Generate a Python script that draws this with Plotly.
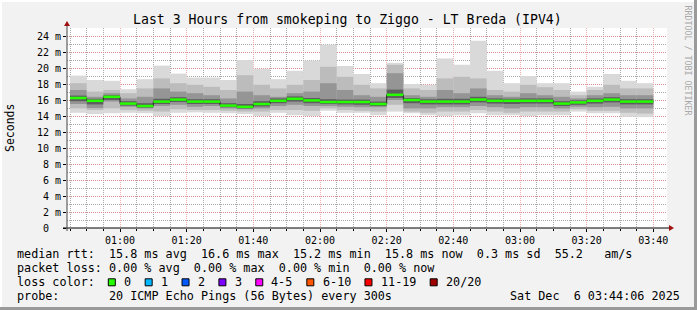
import plotly.graph_objects as go
import pandas as pd

# ---------------- data ----------------
bar_end = pd.date_range("2025-12-06 00:50", periods=35, freq="5min")

rtt_median = [16.25, 15.9, 16.4, 15.55, 15.25, 15.8, 16.05, 15.8, 15.8, 15.3,
              15.15, 15.5, 15.9, 16.15, 15.95, 15.75, 15.75, 15.75, 15.5, 16.65,
              16.0, 15.8, 15.8, 15.8, 16.05, 15.9, 15.9, 15.9, 15.9, 15.55,
              15.7, 15.9, 16.05, 15.8, 15.8]
rtt_max = [19.05, 18.5, 18.4, 17.35, 18.6, 20.3, 19.3, 18.8, 18.8, 18.5,
           21.0, 19.9, 18.6, 19.65, 20.9, 22.9, 20.25, 19.25, 18.1, 20.65,
           18.0, 17.9, 21.2, 20.4, 23.4, 19.65, 18.1, 19.0, 18.1, 18.1,
           17.05, 17.65, 19.25, 18.4, 18.1]
rtt_p90 = [18.1, 17.05, 17.25, 16.85, 17.45, 18.7, 18.1, 17.9, 17.65, 17.25,
           19.1, 17.9, 17.45, 17.9, 18.5, 20.15, 18.9, 17.9, 17.45, 20.4,
           17.45, 17.25, 18.7, 18.9, 18.7, 17.25, 17.05, 17.9, 17.6, 17.25,
           16.6, 17.25, 17.9, 17.45, 17.45]
rtt_p75 = [17.25, 16.4, 16.85, 16.2, 16.4, 17.45, 17.05, 16.85, 16.6, 16.2,
           17.05, 16.6, 16.4, 16.85, 17.05, 18.1, 17.25, 16.6, 16.4, 19.35,
           16.6, 16.4, 17.25, 16.85, 17.45, 16.6, 16.4, 16.85, 16.6, 16.4,
           16.2, 16.6, 16.85, 16.6, 16.6]
rtt_p60 = [16.55, 16.15, 16.6, 15.85, 15.6, 16.15, 16.35, 16.1, 16.1, 15.6,
           15.5, 15.85, 16.2, 16.45, 16.25, 16.1, 16.05, 16.05, 15.8, 17.3,
           16.25, 16.1, 16.15, 16.15, 16.4, 16.2, 16.15, 16.2, 16.2, 15.85,
           15.95, 16.2, 16.35, 16.1, 16.1]
rtt_p40 = [15.85, 15.45, 16.0, 15.3, 15.05, 15.5, 15.75, 15.5, 15.5, 15.1,
           14.95, 15.2, 15.6, 15.8, 15.6, 15.5, 15.45, 15.4, 15.25, 16.25,
           15.6, 15.45, 15.45, 15.45, 15.7, 15.55, 15.5, 15.55, 15.55, 15.25,
           15.4, 15.55, 15.7, 15.45, 15.45]
rtt_p25 = [15.5, 15.0, 15.8, 15.15, 14.95, 15.25, 15.4, 15.15, 15.25, 14.95,
           14.85, 14.95, 15.25, 15.4, 15.25, 15.25, 15.15, 15.1, 15.1, 16.0,
           14.95, 14.95, 15.1, 15.1, 15.25, 15.1, 14.95, 15.1, 15.1, 14.95,
           15.15, 15.1, 15.15, 14.95, 14.95]
rtt_p10 = [14.95, 14.75, 14.95, 14.75, 14.65, 14.55, 14.85, 14.75, 14.75, 14.65,
           14.55, 14.55, 14.75, 14.75, 14.65, 14.95, 14.75, 14.65, 14.55, 15.4,
           14.55, 14.4, 14.55, 14.55, 14.75, 14.55, 14.4, 14.55, 14.55, 14.55,
           14.85, 14.65, 14.65, 14.4, 14.3]
rtt_min = [14.4, 14.25, 14.35, 14.4, 14.35, 14.0, 14.4, 14.45, 14.4, 14.35,
           14.25, 14.0, 14.4, 14.1, 14.0, 14.65, 14.4, 14.4, 14.1, 14.55,
           14.35, 14.1, 14.0, 14.1, 14.35, 14.1, 14.1, 14.0, 14.1, 14.1,
           14.55, 14.35, 14.35, 13.9, 13.85]

y_ticks = list(range(0, 25, 2))
y_ticktext = ["0\u00a0\u00a0"] + [f"{v} m" for v in y_ticks[1:]]

loss_labels = ["0", "1", "2", "3", "4-5", "6-10", "11-19", "20/20"]
loss_colors = ["#26ff00", "#00b8ff", "#0059ff", "#7e00ff", "#ff00ff",
               "#ff5500", "#ff0000", "#a10000"]

title_text = "Last 3 Hours from smokeping to Ziggo - LT Breda (IPV4)"
legend_lines = [
    "median rtt:  15.8 ms avg  16.6 ms max  15.2 ms min  15.8 ms now  0.3 ms sd  55.2   am/s",
    "packet loss: 0.00 % avg  0.00 % max  0.00 % min  0.00 % now",
    "loss color:",
    "probe:       20 ICMP Echo Pings (56 Bytes) every 300s",
]
date_text = "Sat Dec  6 03:44:06 2025"

# ---------------- geometry helpers ----------------
W, H = 697, 310
L, R, T, B = 67, 30, 28, 82
PW, PH = W - L - R, H - T - B
def px(x):
    return (x - L) / PW
def py(y):
    return (H - B - y) / PH
def nb(s):
    return s.replace(" ", "\u00a0")

STEP = pd.Timedelta(minutes=5)
bar_start = bar_end - STEP
centers = bar_end - STEP / 2
WMS = 5 * 60 * 1000
MONO = "DejaVu Sans Mono"

fig = go.Figure()

bands = [
    (rtt_min, rtt_max, "#d9d9d9"),
    (rtt_p10, rtt_p90, "#bcbcbc"),
    (rtt_p25, rtt_p75, "#959595"),
    (rtt_p40, rtt_p60, "#5e5e5e"),
]
for lo, hi, col in bands:
    fig.add_trace(go.Bar(
        x=centers, y=[h - l for l, h in zip(lo, hi)], base=lo, width=WMS,
        marker=dict(color=col, line=dict(width=0)), hoverinfo="skip",
        showlegend=False))

# black step line for the median
sx = list(bar_start) + [bar_end[-1]]
sy = rtt_median + [rtt_median[-1]]
fig.add_trace(go.Scatter(x=sx, y=sy, mode="lines", line=dict(color="#202020", width=1, shape="hv"),
                         hoverinfo="skip", showlegend=False))
# green (0 loss) median segments
gx, gy = [], []
for s, e, m in zip(bar_start, bar_end, rtt_median):
    gx += [s, e, None]
    gy += [m, m, None]
fig.add_trace(go.Scatter(x=gx, y=gy, mode="lines", line=dict(color=loss_colors[0], width=2.5),
                         hoverinfo="skip", showlegend=False))

grid_major = "rgba(240,130,130,0.65)"
grid_minor = "rgba(160,160,160,0.9)"

fig.update_layout(
    width=W, height=H, margin=dict(l=L, r=R, t=T, b=B),
    paper_bgcolor="#f2f2f2", plot_bgcolor="#ffffff",
    barmode="overlay", showlegend=False,
    font=dict(family=MONO, size=10, color="#000000"),
    xaxis=dict(
        type="date",
        range=["2025-12-06 00:44:06", "2025-12-06 03:44:06"],
        tickformat="%H:%M", tick0="2025-12-06 01:00", dtick=20 * 60 * 1000,
        showgrid=True, gridcolor=grid_major, griddash="1px,1px", gridwidth=1,
        ticks="outside", ticklen=3, tickcolor="#000000",
        minor=dict(dtick=WMS, tick0="2025-12-06 00:45", showgrid=True,
                   gridcolor=grid_minor, griddash="1px,1px", gridwidth=1,
                   ticks="outside", ticklen=2, tickcolor="#000000"),
        showline=False, zeroline=False, fixedrange=True,
        tickfont=dict(family=MONO, size=10),
    ),
    yaxis=dict(
        range=[0, 25], tickmode="array", tickvals=y_ticks, ticktext=y_ticktext,
        showgrid=True, gridcolor=grid_major, griddash="1px,1px", gridwidth=1,
        ticks="outside", ticklen=3, tickcolor="#000000",
        minor=dict(dtick=1, tick0=0, showgrid=True, gridcolor=grid_minor,
                   griddash="1px,1px", gridwidth=1),
        showline=False, zeroline=False, fixedrange=True,
        tickfont=dict(family=MONO, size=10),
    ),
)

shapes = []
# frame (3D look)
shapes.append(dict(type="line", xref="paper", yref="paper", x0=px(0), x1=px(W), y0=py(1), y1=py(1),
                   line=dict(color="#ffffff", width=2)))
shapes.append(dict(type="line", xref="paper", yref="paper", x0=px(1), x1=px(1), y0=py(0), y1=py(H),
                   line=dict(color="#ffffff", width=2)))
shapes.append(dict(type="line", xref="paper", yref="paper", x0=px(0), x1=px(W), y0=py(H - 1.5), y1=py(H - 1.5),
                   line=dict(color="#9a9a9a", width=3)))
shapes.append(dict(type="line", xref="paper", yref="paper", x0=px(W - 1.5), x1=px(W - 1.5), y0=py(0), y1=py(H),
                   line=dict(color="#9a9a9a", width=3)))
# axes
shapes.append(dict(type="line", xref="paper", yref="paper", x0=px(63), x1=px(670), y0=0, y1=0,
                   line=dict(color="#000000", width=1)))
shapes.append(dict(type="line", xref="paper", yref="paper", x0=0, x1=0, y0=py(231), y1=py(24),
                   line=dict(color="#444444", width=1)))
shapes.append(dict(type="path", xref="paper", yref="paper",
                   path=f"M {px(669)} {py(225)} L {px(674)} {py(228)} L {px(669)} {py(231)} Z",
                   fillcolor="#a01010", line=dict(width=0)))
shapes.append(dict(type="path", xref="paper", yref="paper",
                   path=f"M {px(64)} {py(26)} L {px(67)} {py(21)} L {px(70)} {py(26)} Z",
                   fillcolor="#a01010", line=dict(width=0)))

annotations = []
def text(xp, yp, s, size, xanchor="left", angle=0, color="#000000"):
    annotations.append(dict(x=px(xp), y=py(yp), xref="paper", yref="paper", text=nb(s),
                            showarrow=False, xanchor=xanchor, yanchor="middle",
                            textangle=angle, borderpad=0,
                            font=dict(family=MONO, size=size, color=color)))

text(347, 19, title_text, 13.2, xanchor="center")
text(10, 128, "Seconds", 11.5, xanchor="center", angle=-90)
text(687.5, 60, "RRDTOOL / TOBI OETIKER", 8.3, xanchor="center", angle=90, color="#a8a8a8")

LEG_X = 16
leg_y = [254.3, 268.3, 282.3, 295.7]
CW = 7.09
for s, yy in zip(legend_lines, leg_y):
    text(LEG_X, yy, s, 11.75)
text(681, leg_y[3], date_text, 11.75, xanchor="right")

bx = 108.3
for lab, col in zip(loss_labels, loss_colors):
    shapes.append(dict(type="rect", xref="paper", yref="paper",
                       x0=px(bx), x1=px(bx + 7), y0=py(285.8), y1=py(278.8),
                       fillcolor=col, line=dict(color="#000000", width=1)))
    text(bx + 14.7, leg_y[2], lab, 11.75)
    bx += (len(lab) + 4.2) * CW

fig.update_layout(shapes=shapes, annotations=annotations)
fig.write_html("out.html", config={"displayModeBar": False, "staticPlot": True})
